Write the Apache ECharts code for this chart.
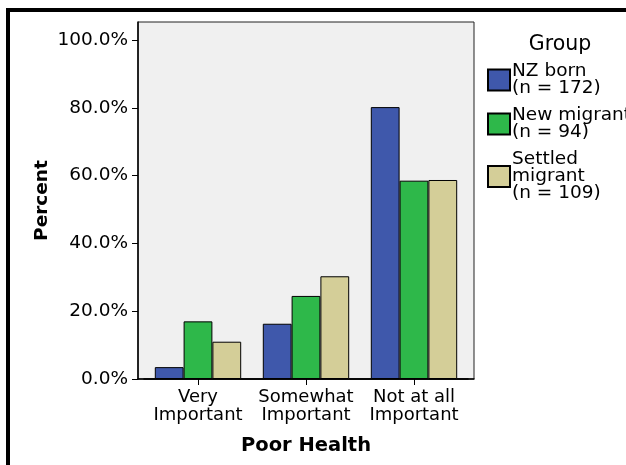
<!DOCTYPE html>
<html>
<head>
<meta charset="utf-8">
<script src="https://cdn.jsdelivr.net/npm/echarts@6/dist/echarts.min.js"></script>
<style>
html,body{margin:0;padding:0;background:#fff;}
#frame{position:absolute;left:6px;top:8px;width:640px;height:480px;border-left:4px solid #000;border-top:4px solid #000;box-sizing:border-box;pointer-events:none;}
#chart{position:absolute;left:0;top:0;width:626px;height:465px;}
</style>
</head>
<body>
<div id="chart"></div>
<div id="frame"></div>
<script>
var categories = ['Very\nImportant', 'Somewhat\nImportant', 'Not at all\nImportant'];
var groupNames = ['NZ born\n(n = 172)', 'New migrant\n(n = 94)', 'Settled\nmigrant\n(n = 109)'];
var nzBorn = [3.5, 16.3, 80.2];
var newMigrant = [17.0, 24.5, 58.5];
var settledMigrant = [11.0, 30.3, 58.7];
var yTicks = [0, 20, 40, 60, 80, 100];
var colors = ['#3F58AB', '#2EB84A', '#D4CE98'];

var FONT = 'DejaVu Sans, sans-serif';
var chart = echarts.init(document.getElementById('chart'), null, {renderer: 'canvas'});
var seriesData = [nzBorn, newMigrant, settledMigrant];
var YMAX = 105.3;
var option = {
  animation: false,
  backgroundColor: '#fff',
  textStyle: {fontFamily: FONT, color: '#000'},
  title: {
    text: 'Group', left: 555, top: 29, textAlign: 'center',
    textStyle: {fontFamily: FONT, fontSize: 20.5, fontWeight: 'normal', color: '#000'}
  },
  legend: {
    orient: 'vertical', left: 487, top: 62, padding: 0,
    itemWidth: 22, itemHeight: 21, itemGap: 8,
    icon: 'rect',
    textStyle: {fontFamily: FONT, fontSize: 18.5, lineHeight: 17, color: '#000', padding: [0, 0, 0, -3]},
    data: groupNames
  },
  grid: [
    {left: 138, right: 152, top: 22, bottom: 86,
     show: true, backgroundColor: '#F0F0F0', borderColor: '#222', borderWidth: 1},
    {left: 144, right: 158, top: 22, bottom: 86}
  ],
  xAxis: [
    {
      type: 'value', gridIndex: 0, min: 0, max: 1,
      axisLine: {show: true, lineStyle: {color: '#000', width: 1.5}},
      axisTick: {show: false}, axisLabel: {show: false}, splitLine: {show: false},
      name: 'Poor Health', nameLocation: 'middle', nameGap: 57, nameMoveOverlap: false,
      nameTextStyle: {fontFamily: FONT, fontSize: 19.5, fontWeight: 'bold', color: '#000'}
    },
    {
      type: 'category', gridIndex: 1, data: categories,
      axisLine: {show: true, lineStyle: {color: '#000', width: 1.5}},
      axisTick: {show: true, alignWithLabel: true, interval: 0, length: 6, lineStyle: {color: '#000'}},
      axisLabel: {interval: 0, fontFamily: FONT, fontSize: 18, lineHeight: 18, color: '#000', margin: 9}
    }
  ],
  yAxis: [
    {
      type: 'value', gridIndex: 0, min: 0, max: YMAX, interval: 20,
      name: 'Percent', nameLocation: 'middle', nameGap: 86, nameMoveOverlap: false,
      nameTextStyle: {fontFamily: FONT, fontSize: 18.5, fontWeight: 'bold', color: '#000'},
      axisLine: {show: true, lineStyle: {color: '#000', width: 1.5}},
      axisTick: {show: true, length: 6, customValues: yTicks, lineStyle: {color: '#000'}},
      axisLabel: {
        fontFamily: FONT, fontSize: 18.5, color: '#000', margin: 10, customValues: yTicks,
        formatter: function (v) { return v.toFixed(1) + '%'; }
      },
      splitLine: {show: false}
    },
    {
      type: 'value', gridIndex: 1, min: 0, max: YMAX, interval: 20,
      show: false, splitLine: {show: false}
    }
  ],
  series: groupNames.map(function (name, i) {
    return {
      name: name, type: 'bar', data: seriesData[i],
      xAxisIndex: 1, yAxisIndex: 1,
      barGap: '0%', barCategoryGap: '20%',
      itemStyle: {color: colors[i], borderColor: '#000', borderWidth: 1}
    };
  })
};
chart.setOption(option);
</script>
</body>
</html>
